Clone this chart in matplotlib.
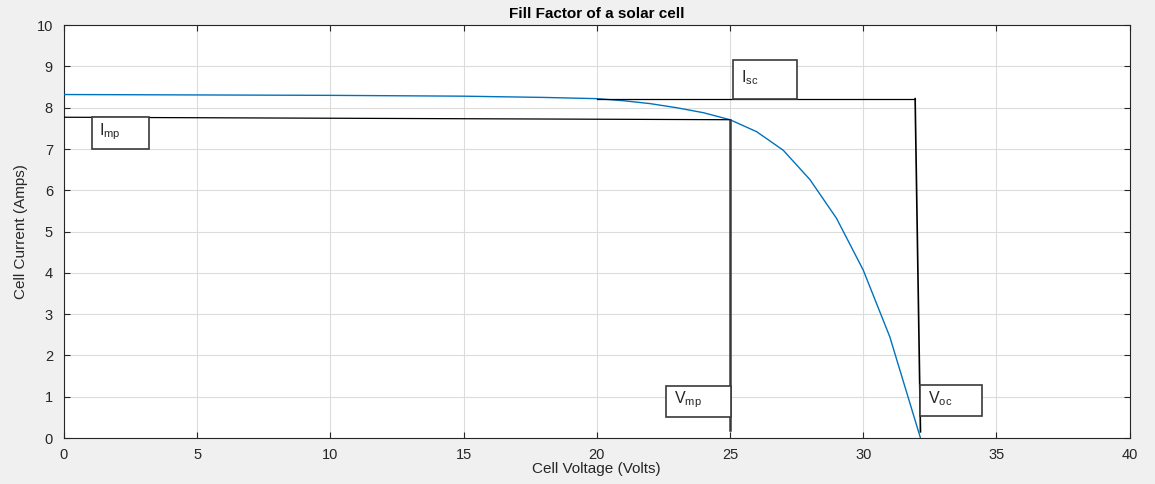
import matplotlib.pyplot as plt
from matplotlib.patches import Rectangle

plt.rcParams['font.family'] = ['Liberation Sans', 'DejaVu Sans']

# curva I-V
voltaje = [0, 5, 10, 15, 18, 20, 21, 22, 23, 24, 25, 26, 27, 28, 29, 30, 31, 32.15]
corriente = [8.32, 8.31, 8.30, 8.28, 8.25, 8.22, 8.17, 8.10, 8.00, 7.88, 7.71,
             7.42, 6.97, 6.26, 5.32, 4.07, 2.45, 0.0]

# puntos caracteristicos
v_mp, i_mp = 25.0, 7.71
v_oc, i_sc = 31.95, 8.22
imp_line_x = [0, v_mp]
imp_line_y = [7.77, i_mp]
isc_line_x = [20, v_oc]
isc_line_y = [i_sc, i_sc]
vmp_line_x = [v_mp, v_mp]
vmp_line_y = [i_mp, 0.2]
voc_line_x = [v_oc, 32.15]
voc_line_y = [i_sc, 0.15]

# cajitas de texto (x0, y0, ancho, alto, texto)
cajas = [
    (25.13, 8.22, 2.37, 0.94, r'I$_{\mathregular{sc}}$'),
    (1.04, 7.00, 2.15, 0.77, r'I$_{\mathregular{mp}}$'),
    (22.6, 0.50, 2.45, 0.76, r'V$_{\mathregular{mp}}$'),
    (32.15, 0.53, 2.30, 0.75, r'V$_{\mathregular{oc}}$'),
]

fig = plt.figure(figsize=(11.55, 4.84), dpi=100, facecolor='#f0f0f0')
ax = fig.add_axes([0.0554, 0.095, 0.9226, 0.853])

ax.plot(voltaje, corriente, color='#0072BD', linewidth=1.0, zorder=3)
ax.plot(imp_line_x, imp_line_y, color='black', linewidth=0.9, zorder=4)
ax.plot(isc_line_x, isc_line_y, color='black', linewidth=0.9, zorder=4)
ax.plot(vmp_line_x, vmp_line_y, color='#3a3a3a', linewidth=1.8, zorder=4)
ax.plot(voc_line_x, voc_line_y, color='black', linewidth=1.2, zorder=4)

for x0, y0, w, h, txt in cajas:
    ax.add_patch(Rectangle((x0, y0), w, h, facecolor='white', edgecolor='#3a3a3a',
                           linewidth=1.2, zorder=5))
    ax.text(x0 + 0.28, y0 + h * 0.55, txt, fontsize=11.5, color='#262626',
            va='center', ha='left', zorder=6)

ax.set_xlim(0, 40)
ax.set_ylim(0, 10)
ax.set_xticks(range(0, 41, 5))
ax.set_yticks(range(0, 11))
ax.grid(True, color='#dcdcdc', linewidth=0.8)
ax.set_axisbelow(True)
ax.tick_params(direction='in', top=True, right=True, labelsize=10.5,
               colors='#262626', length=4)
ax.tick_params(axis='x', pad=7)
ax.tick_params(axis='y', pad=8)
for s in ax.spines.values():
    s.set_color('#262626')
    s.set_linewidth(0.8)

ax.set_title('Fill Factor of a solar cell', fontsize=11, fontweight='bold', pad=5)
ax.set_xlabel('Cell Voltage (Volts)', fontsize=11, color='#262626', labelpad=0)
ax.set_ylabel('Cell Current (Amps)', fontsize=11, color='#262626', labelpad=6)

fig.savefig('out.png', dpi=100, facecolor=fig.get_facecolor())
